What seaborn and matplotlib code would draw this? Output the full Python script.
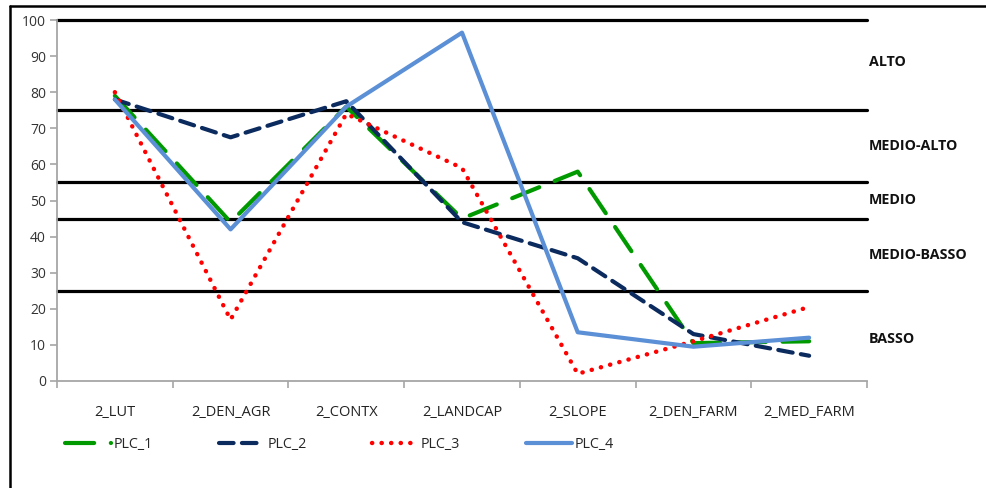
import matplotlib
matplotlib.use("Agg")
import matplotlib.pyplot as plt
from matplotlib.lines import Line2D
from matplotlib.ticker import FixedLocator
import seaborn as sns
import pandas as pd

# chart data
categories = ["2_LUT", "2_DEN_AGR", "2_CONTX", "2_LANDCAP", "2_SLOPE", "2_DEN_FARM", "2_MED_FARM"]
plc_1 = [79, 44, 76, 45, 58, 10.5, 11]
plc_2 = [78, 67.5, 77.5, 44, 34, 13, 7]
plc_3 = [80, 17, 74, 59, 2, 11, 20.5]
plc_4 = [78, 42, 76, 96.5, 13.5, 9.5, 12]
series_names = ["PLC_1", "PLC_2", "PLC_3", "PLC_4"]

class_limits = [25, 45, 55, 75, 100]
class_labels = ["ALTO", "MEDIO-ALTO", "MEDIO", "MEDIO-BASSO", "BASSO"]
class_label_y = [88.5, 65, 50, 35, 11.5]
y_ticks = list(range(0, 101, 10))

sns.set_style("white")
plt.rcParams["font.family"] = ["Open Sans", "DejaVu Sans"]

df = pd.DataFrame({"cat": categories, "PLC_1": plc_1, "PLC_2": plc_2,
                   "PLC_3": plc_3, "PLC_4": plc_4})

fig = plt.figure(figsize=(9.87, 4.88), dpi=100)
ax = fig.add_axes([57 / 987, 1 - 381 / 488, 810 / 987, 361 / 488])

styles = {
    "PLC_1": dict(color="#009a00", dashes=(7, 4), lw=3.0),
    "PLC_2": dict(color="#0b2a5e", dashes=(3.5, 2), lw=3.0),
    "PLC_3": dict(color="#ff0000", dashes=(0.05, 2.1), lw=3.2),
    "PLC_4": dict(color="#5b8fd6", dashes=None, lw=3.0),
}

# threshold lines
for lim in class_limits:
    ax.axhline(lim, color="black", lw=2.3, clip_on=False, zorder=1)

for name in series_names:
    st = styles[name]
    line_ax = sns.lineplot(data=df, x="cat", y=name, ax=ax, sort=False,
                           color=st["color"], lw=st["lw"], label=name, zorder=3)
    ln = line_ax.lines[-1]
    if st["dashes"] is not None:
        ln.set_dashes(st["dashes"])
    ln.set_dash_capstyle("round")
    ln.set_solid_capstyle("round")

ax.set_xlim(-0.5, len(categories) - 0.5)
ax.set_ylim(0, 100)
ax.set_yticks(y_ticks)
ax.set_xlabel("")
ax.set_ylabel("")

for side in ["top", "right"]:
    ax.spines[side].set_visible(False)
for side in ["left", "bottom"]:
    ax.spines[side].set_color("#a6a6a6")
    ax.spines[side].set_linewidth(1.3)

ax.tick_params(axis="y", length=5, width=1.2, color="#a6a6a6", pad=3,
               labelsize=10, labelcolor="#333333", left=True)
ax.tick_params(axis="x", which="major", length=0, pad=17,
               labelsize=10.5, labelcolor="#222222")
ax.xaxis.set_minor_locator(FixedLocator([i - 0.5 for i in range(len(categories) + 1)]))
ax.tick_params(axis="x", which="minor", length=5, width=1.2, color="#a6a6a6",
               bottom=True)

# class labels on the right
for lab, yv in zip(class_labels, class_label_y):
    ax.text(1.002, yv, lab, transform=ax.get_yaxis_transform(),
            fontsize=10.3, fontweight="bold", color="#111111",
            ha="left", va="center")

ax.get_legend().remove()
handles = [Line2D([0], [0], color=styles[n]["color"], lw=styles[n]["lw"],
                  dashes=styles[n]["dashes"] if styles[n]["dashes"] else (None, None),
                  dash_capstyle="round", solid_capstyle="round")
           for n in series_names]
fig.legend(handles, series_names, loc="center left", ncol=4, frameon=False,
           bbox_to_anchor=(52 / 987, 1 - 445 / 488), handlelength=3.2,
           handletextpad=0.2, columnspacing=4.6, fontsize=10.3)

# outer frame of the original picture
fig.add_artist(Line2D([10 / 987, 10 / 987], [0, 1 - 6 / 488], transform=fig.transFigure,
                      color="black", lw=1.8))
fig.add_artist(Line2D([10 / 987, 1], [1 - 6 / 488, 1 - 6 / 488], transform=fig.transFigure,
                      color="black", lw=1.8))

fig.savefig("out.png", dpi=100)
